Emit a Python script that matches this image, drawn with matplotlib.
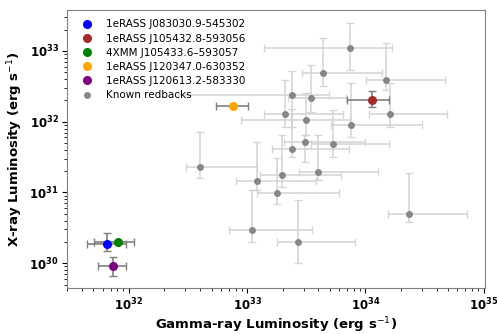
import matplotlib
matplotlib.use('Agg')
import matplotlib.pyplot as plt
import numpy as np

# highlighted sources: name, colour, Lgamma, Lgamma low/high, Lx, Lx low/high
names = ['1eRASS J083030.9-545302', '1eRASS J105432.8-593056', '4XMM J105433.6\u2013593057',
         '1eRASS J120347.0-630352', '1eRASS J120613.2-583330']
colors = ['blue', 'brown', 'green', 'orange', 'purple']
lg = [6.47e31, 1.13e34, 8.07e31, 7.64e32, 7.28e31]
lg_lo = [4.38e31, 7.0e33, 5.08e31, 5.42e32, 5.5e31]
lg_hi = [9.38e31, 1.60e34, 1.11e32, 1.01e33, 9.44e31]
lx = [1.85e30, 2.05e32, 1.98e30, 1.67e32, 9.25e29]
lx_lo = [1.49e30, 1.60e32, 1.9e30, 1.67e32, 6.62e29]
lx_hi = [2.65e30, 2.69e32, 2.05e30, 1.67e32, 1.24e30]

# known redbacks
rb_g = [4.02e32, 1.21e33, 1.99e33, 1.80e33, 1.10e33, 2.70e33, 2.39e33, 3.09e33, 3.96e33, 5.34e33,
        4.39e33, 2.39e33, 3.50e33, 2.09e33, 3.15e33, 7.48e33, 1.51e34, 1.63e34, 7.63e33, 2.33e34]
rb_g_lo = [3.04e32, 8.0e32, 1.29e33, 1.21e33, 7.03e32, 1.80e33, 1.62e33, 2.05e33, 2.77e33, 3.50e33,
           2.90e33, 2.60e32, 2.22e33, 1.40e33, 8.93e32, 1.40e33, 1.01e34, 1.08e34, 5.09e33, 1.54e34]
rb_g_hi = [1.21e33, 3.81e33, 6.24e33, 5.94e33, 3.51e33, 8.15e33, 7.33e33, 9.86e33, 1.29e34, 1.60e34,
           1.38e34, 4.93e33, 6.88e33, 6.53e33, 7.43e33, 1.67e34, 4.68e34, 4.95e34, 3.04e34, 7.23e34]
rb_x = [2.27e31, 1.47e31, 1.75e31, 9.84e30, 2.92e30, 1.97e30, 4.12e31, 5.22e31, 1.95e31, 4.76e31,
        4.87e32, 2.36e32, 2.14e32, 1.28e32, 1.06e32, 1.11e33, 3.88e32, 1.27e32, 9.07e31, 4.97e30]
rb_x_lo = [1.59e31, 1.08e31, 1.21e31, 6.88e30, 2.0e30, 1.0e30, 3.2e31, 2.67e31, 1.48e31, 3.17e31,
           3.19e32, 8.5e31, 1.38e32, 8.41e31, 6.49e31, 5.37e32, 2.81e32, 8.5e31, 6.14e31, 3.87e30]
rb_x_hi = [7.08e31, 5.22e31, 6.49e31, 3.04e31, 1.07e31, 7.76e30, 1.51e32, 6.49e31, 6.55e31, 1.46e32,
           1.51e33, 5.15e32, 6.32e32, 3.88e32, 2.52e32, 2.45e33, 1.28e33, 3.48e32, 3.56e32, 1.87e31]

fig, ax = plt.subplots(figsize=(4.97, 3.34), dpi=100)
fig.subplots_adjust(left=0.135, right=0.976, top=0.97, bottom=0.138)

g = np.array(rb_g)
x = np.array(rb_x)
ax.errorbar(g, x, xerr=[g - np.array(rb_g_lo), np.array(rb_g_hi) - g],
            yerr=[x - np.array(rb_x_lo), np.array(rb_x_hi) - x],
            fmt='o', color='grey', ms=4, ecolor='lightgrey', elinewidth=1.2, capsize=3,
            alpha=0.9, label='Known redbacks', zorder=2)

for i in range(len(names)):
    ax.errorbar([lg[i]], [lx[i]], xerr=[[lg[i] - lg_lo[i]], [lg_hi[i] - lg[i]]],
                yerr=[[lx[i] - lx_lo[i]], [lx_hi[i] - lx[i]]],
                fmt='o', color=colors[i], ms=5.5, ecolor='grey', elinewidth=1.2, capsize=3,
                label=names[i], zorder=3)

ax.set_xscale('log')
ax.set_yscale('log')
ax.set_xlim(3e31, 1.03e35)
ax.set_ylim(4.48e29, 3.78e33)

ax.set_xlabel('Gamma-ray Luminosity (erg s$^{-1}$)', fontsize=9.5, fontweight='bold', labelpad=2)
ax.set_ylabel('X-ray Luminosity (erg s$^{-1}$)', fontsize=9.5, fontweight='bold', labelpad=3)
for lab in ax.get_xticklabels() + ax.get_yticklabels():
    lab.set_fontweight('bold')
ax.tick_params(labelsize=8.5, pad=2.5)
for s in ax.spines.values():
    s.set_color('grey')

h, l = ax.get_legend_handles_labels()
order = [1, 2, 3, 4, 5, 0]
leg = ax.legend([h[i][0] for i in order], [l[i] for i in order], loc='upper left',
                frameon=False, fontsize=7.5, handletextpad=0.8, labelspacing=0.4)

plt.savefig('out.png', dpi=100)
